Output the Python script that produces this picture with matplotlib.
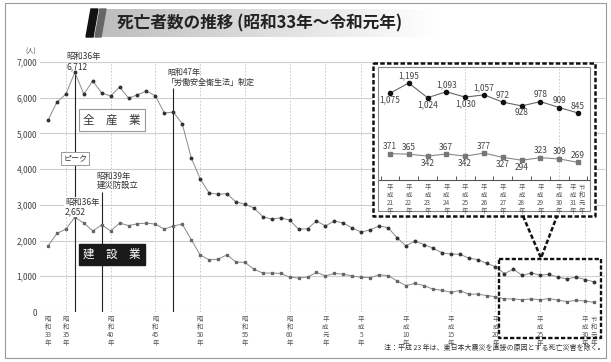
import numpy as np
import matplotlib
matplotlib.use("Agg")
from matplotlib import pyplot as plt
from matplotlib.patches import Rectangle, Polygon
from matplotlib.lines import Line2D

plt.rcParams['font.family'] = ['Noto Sans CJK JP', 'DejaVu Sans']

W, H = 611, 362

# data
years = list(range(1958, 2020))
all_industry = [5368, 5880, 6100, 6712, 6100, 6470, 6130, 6050, 6300, 5990,
                6080, 6190, 6050, 5570, 5600, 5270, 4320, 3730, 3330, 3300,
                3310, 3080, 3020, 2910, 2670, 2600, 2640, 2570, 2320, 2330,
                2550, 2410, 2550, 2490, 2350, 2240, 2300, 2410, 2360, 2080,
                1850, 1990, 1890, 1790, 1660, 1620, 1620, 1510, 1470, 1360,
                1270, 1075, 1195, 1024, 1093, 1030, 1057, 972, 928, 978, 909, 845]
construction = [1850, 2200, 2320, 2652, 2490, 2270, 2440, 2270, 2490, 2420,
                2470, 2490, 2460, 2320, 2410, 2460, 2030, 1600, 1460, 1480,
                1600, 1400, 1390, 1200, 1090, 1090, 1080, 980, 950, 980,
                1110, 1010, 1080, 1060, 1010, 970, 960, 1040, 1020, 870,
                740, 800, 740, 640, 610, 550, 600, 500, 500, 460,
                430, 371, 365, 342, 367, 342, 377, 327, 294, 323, 309, 269]

tick_years = [1958, 1960, 1965, 1970, 1975, 1980, 1985, 1989, 1993, 1998,
              2003, 2008, 2013, 2018, 2019]
tick_labels = ['昭和33年', '昭和35年', '昭和40年', '昭和45年', '昭和50年',
               '昭和55年', '昭和60年', '平成元年', '平成5年', '平成10年',
               '平成15年', '平成20年', '平成25年', '平成30年', '令和元年']

inset_labels = ['平成21年', '平成22年', '平成23年', '平成24年', '平成25年',
                '平成26年', '平成27年', '平成28年', '平成29年', '平成30年']
inset_all = all_industry[-11:]
inset_con = construction[-11:]
inset_all_pos = ['b', 'a', 'b', 'a', 'b', 'a', 'a', 'b', 'a', 'a', 'a']
inset_con_pos = ['a', 'a', 'b', 'a', 'b', 'a', 'b', 'b', 'a', 'a', 'a']


def vert(s):
    # 昭和33年 -> stacked characters, digits kept together
    out = []
    buf = ''
    for ch in s:
        if ch.isdigit():
            buf += ch
        else:
            if buf:
                out.append(buf)
                buf = ''
            out.append(ch)
    if buf:
        out.append(buf)
    return '\n'.join(out)


def fx(x):
    return x / W


def fy(y):
    return 1 - y / H


def box(x0, y0, x1, y1):
    return [fx(x0), fy(y1), (x1 - x0) / W, (y1 - y0) / H]


fig = plt.figure(figsize=(W / 100, H / 100), dpi=100)

# outer frame
fig.patches.append(Rectangle((fx(5), fy(358)), (606 - 5) / W, (358 - 3) / H,
                             transform=fig.transFigure, fill=False,
                             edgecolor='#9a9a9a', lw=0.8))

# title banner
ax_t = fig.add_axes(box(100, 9, 440, 37))
ax_t.imshow(np.linspace(0.74, 1.0, 256)[None, :], cmap='gray', vmin=0, vmax=1,
            aspect='auto')
ax_t.axis('off')
fig.patches.append(Polygon([(fx(86), fy(37)), (fx(93), fy(37)), (fx(98), fy(9)), (fx(91), fy(9))],
                           closed=True, transform=fig.transFigure, color='#111'))
fig.patches.append(Polygon([(fx(95), fy(37)), (fx(101), fy(37)), (fx(106), fy(9)), (fx(100), fy(9))],
                           closed=True, transform=fig.transFigure, color='#666'))
fig.text(fx(117), fy(23), '死亡者数の推移 (昭和33年～令和元年)', fontsize=12,
         fontweight='bold', color='#222', ha='left', va='center')

# main chart
x_left = 1958 + (40 - 48) / 8.95
x_right = 1958 + (605 - 48) / 8.95
ax = fig.add_axes(box(40, 62, 605, 312))
ax.set_xlim(x_left, x_right)
ax.set_ylim(0, 7000)
for s in ax.spines.values():
    s.set_visible(False)
ax.set_yticks(range(0, 8000, 1000))
ax.set_yticklabels(['{:,}'.format(v) for v in range(0, 8000, 1000)], fontsize=6, color='#444')
ax.yaxis.grid(True, color='#cfcfcf', lw=0.8)
ax.set_axisbelow(True)
ax.set_xticks(tick_years)
ax.set_xticklabels([vert(t) for t in tick_labels], fontsize=4.6, color='#555', linespacing=1.0)
ax.tick_params(axis='both', length=0)
ax.tick_params(axis='x', pad=2)
ax.tick_params(axis='y', pad=2)
ax.vlines(tick_years[1:-1], 0, 7000, colors='#c4c4c4', lw=0.6, linestyles=(0, (2, 2)), zorder=0)
fig.text(fx(31), fy(52), '(人)', fontsize=4.5, color='#444', ha='center', va='center')

# event lines
ax.vlines(1961, 0, 6712, colors='#222', lw=0.8, zorder=1)
ax.vlines(1964, 0, 3360, colors='#222', lw=0.8, zorder=1)
ax.vlines(1972, 0, 6270, colors='#222', lw=0.8, zorder=1)

ax.plot(years, all_industry, color='#8a8a8a', lw=0.7, marker='o', ms=1.8,
        mfc='#333', mec='#333', zorder=3)
ax.plot(years, construction, color='#8a8a8a', lw=0.7, marker='s', ms=1.9,
        mfc='#666', mec='#666', zorder=3)

ax.text(1960.1, 7010, '昭和36年\n6,712', fontsize=6, color='#333', ha='left', va='center',
        linespacing=1.05)
ax.text(1963.4, 3670, '昭和39年\n建災防設立', fontsize=6, color='#333', ha='left', va='center',
        linespacing=1.05)
ax.text(1959.9, 2940, '昭和36年\n2,652', fontsize=6, color='#333', ha='left', va='center',
        linespacing=1.05, zorder=4,
        bbox=dict(boxstyle='square,pad=0.1', fc='white', ec='none'))
ax.text(1971.3, 6570, '昭和47年\n「労働安全衛生法」制定', fontsize=5.8, color='#333', ha='left',
        va='center', linespacing=1.05)
ax.text(1965.15, 5376, '全　産　業', fontsize=8.3, color='#333', ha='center', va='center',
        zorder=4, bbox=dict(boxstyle='square,pad=0.35', fc='white', ec='#999', lw=0.8))
ax.text(1961.07, 4300, 'ピーク', fontsize=5.8, color='#333', ha='center', va='center',
        zorder=4, bbox=dict(boxstyle='square,pad=0.25', fc='white', ec='#999', lw=0.7))
ax.text(1965.15, 1610, '建　設　業', fontsize=8.3, color='white', ha='center', va='center',
        zorder=4, bbox=dict(boxstyle='square,pad=0.35', fc='#1a1a1a', ec='#1a1a1a'))

# dashed callout shapes
dash = (0, (1.8, 0.9))


def fline(xs, ys, lw=1.8):
    fig.lines.append(Line2D([fx(v) for v in xs], [fy(v) for v in ys],
                            transform=fig.transFigure, color='#111', lw=lw,
                            linestyle=dash, zorder=10))


fline([499, 601, 601, 499, 499], [259, 259, 338, 338, 259], lw=1.7)
fline([523, 541, 557], [216, 258, 216], lw=1.8)

# inset
fig.patches.append(Rectangle((fx(373), fy(216)), (595 - 373) / W, (216 - 63) / H,
                             transform=fig.transFigure, fc='white', ec='none', zorder=5))
fline([373, 595, 595, 373, 373], [63, 63, 216, 216, 63], lw=1.8)
fig.patches.append(Rectangle((fx(378), fy(211)), (590 - 378) / W, (211 - 67) / H,
                             transform=fig.transFigure, fill=False, ec='#888', lw=0.8, zorder=6))

ax2 = fig.add_axes(box(379, 67, 589, 180))
ax2.set_zorder(7)
ax2.patch.set_alpha(0)
idx = np.arange(len(inset_all))
ax2.set_xlim(-0.58, 10.58)
ax2.set_ylim(63, 1382)
for k, s in ax2.spines.items():
    s.set_visible(k == 'bottom')
ax2.spines['bottom'].set_color('#555')
ax2.spines['bottom'].set_linewidth(0.8)
ax2.set_yticks([])
ax2.set_xticks([])
ax2.set_xticks(np.arange(-0.5, 10.6, 1), minor=True)
ax2.tick_params(axis='x', which='minor', direction='in', length=3, color='#555', width=0.7)
ax2.vlines([4, 9], 63, 1382, colors='#c4c4c4', lw=0.6, linestyles=(0, (2, 2)), zorder=0)
ax2.plot(idx, inset_all, color='#666', lw=0.8, marker='o', ms=3.0, mfc='#111', mec='#111')
ax2.plot(idx, inset_con, color='#888', lw=0.8, marker='s', ms=3.2, mfc='#777', mec='#777')
for i, v in enumerate(inset_all):
    dy = 5 if inset_all_pos[i] == 'a' else -5
    ax2.annotate('{:,}'.format(v), (i, v), xytext=(0, dy), textcoords='offset points',
                 ha='center', va='center', fontsize=6, color='#444')
for i, v in enumerate(inset_con):
    dy = 5 if inset_con_pos[i] == 'a' else -5
    ax2.annotate('{:,}'.format(v), (i, v), xytext=(0, dy), textcoords='offset points',
                 ha='center', va='center', fontsize=6, color='#444')
for i, lab in enumerate(inset_labels):
    ax2.annotate(vert(lab), (i, 0), xycoords=('data', 'axes fraction'), xytext=(0, -2),
                 textcoords='offset points', ha='center', va='top', fontsize=4.6,
                 color='#555', linespacing=1.0)
ax2.annotate(vert('平成31年'), (10, 0), xycoords=('data', 'axes fraction'), xytext=(-3.5, -2),
             textcoords='offset points', ha='center', va='top', fontsize=4.6,
             color='#555', linespacing=1.0)
ax2.annotate(vert('令和元年'), (10, 0), xycoords=('data', 'axes fraction'), xytext=(3, -2),
             textcoords='offset points', ha='center', va='top', fontsize=4.6,
             color='#555', linespacing=1.0)

fig.text(fx(605), fy(348), '注：平成 23 年は、東日本大震災を直接の原因とする死亡災害を除く。',
         fontsize=5, color='#333', ha='right', va='center')

fig.savefig('out.png', dpi=100)
